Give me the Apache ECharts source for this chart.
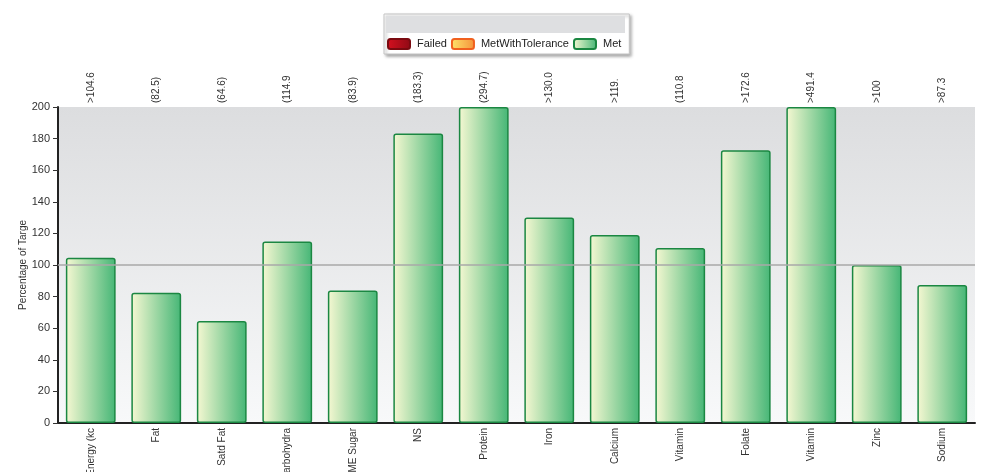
<!DOCTYPE html>
<html>
<head>
<meta charset="utf-8">
<script src="https://cdn.jsdelivr.net/npm/echarts@6/dist/echarts.min.js"></script>
<style>
    html, body { margin: 0; padding: 0; background: #fff; }
    #chart { width: 985px; height: 472px; }
</style>
</head>
<body>
<div id="chart"></div>
<script>
var categories = ['Energy (kc', 'Fat', 'Satd Fat', 'Carbohydra', 'NME Sugar', 'NS', 'Protein',
    'Iron', 'Calcium', 'Vitamin', 'Folate', 'Vitamin', 'Zinc', 'Sodium'];
// shown values, capped at the axis max
var metValues = [104.6, 82.5, 64.6, 114.9, 83.9, 183.3, 200, 130.0, 119, 110.8, 172.6, 200, 100, 87.3];
// labels printed above the plot
var topLabels = ['>104.6', '(82.5)', '(64.6)', '(114.9', '(83.9)', '(183.3)', '(294.7)',
    '>130.0', '>119.', '(110.8', '>172.6', '>491.4', '>100', '>87.3'];
var targetLine = 100;

var grad = function(a, b) {
    return new echarts.graphic.LinearGradient(0, 0, 1, 0, [
        {offset: 0, color: a},
        {offset: 1, color: b}
    ]);
};

var drawChart = function() {
    var chart = echarts.init(document.getElementById('chart'));
    var font = 'Liberation Sans, Arial, sans-serif';
    var option = {
        backgroundColor: '#fff',
        animation: false,
        textStyle: {fontFamily: font},
        legend: {
            left: 384,
            top: 14,
            padding: [24, 8, 4, 3],
            itemWidth: 22,
            itemHeight: 10,
            itemGap: 4,
            backgroundColor: '#fff',
            borderColor: '#c4c4c4',
            borderWidth: 1,
            shadowColor: 'rgba(0,0,0,0.35)',
            shadowBlur: 3,
            shadowOffsetX: 2,
            shadowOffsetY: 2,
            textStyle: {fontSize: 11, color: '#222', padding: [0, 4, 0, 2]},
            data: ['Failed', 'MetWithTolerance', 'Met']
        },
        graphic: [{
            type: 'rect',
            z: 10,
            shape: {x: 386, y: 16, width: 239, height: 17},
            style: {fill: '#dedfe1'}
        }],
        grid: {
            left: 58,
            right: 10,
            top: 107,
            bottom: 49,
            outerBoundsMode: 'none',
            containLabel: false,
            show: true,
            borderWidth: 0,
            backgroundColor: new echarts.graphic.LinearGradient(0, 0, 0, 1, [
                {offset: 0, color: '#dcdddf'},
                {offset: 1, color: '#f8f9fa'}
            ])
        },
        xAxis: [{
            type: 'category',
            data: categories,
            axisLine: {lineStyle: {color: '#222', width: 2}},
            axisTick: {show: false},
            axisLabel: {rotate: 90, fontSize: 10, color: '#333', margin: 5, interval: 0}
        }, {
            type: 'category',
            position: 'top',
            data: topLabels,
            axisLine: {show: false},
            axisTick: {show: false},
            axisLabel: {rotate: -90, fontSize: 10, color: '#333', margin: 4, interval: 0}
        }],
        yAxis: [{
            type: 'value',
            min: 0,
            max: 200,
            interval: 20,
            name: 'Percentage of Targe',
            nameLocation: 'middle',
            nameGap: 30,
            nameMoveOverlap: false,
            nameTextStyle: {fontSize: 10, color: '#333'},
            axisLine: {show: true, lineStyle: {color: '#222', width: 2}},
            axisTick: {show: true, length: 5, lineStyle: {color: '#333'}},
            axisLabel: {fontSize: 11, color: '#333', margin: 8},
            splitLine: {show: false}
        }],
        series: [{
            name: 'Failed',
            type: 'bar',
            data: [],
            itemStyle: {color: grad('#d5101f', '#8e0a15'), borderColor: '#7a0a10', borderWidth: 1}
        }, {
            name: 'MetWithTolerance',
            type: 'bar',
            data: [],
            itemStyle: {color: grad('#fde36a', '#f5923a'), borderColor: '#f0601e', borderWidth: 1}
        }, {
            name: 'Met',
            type: 'bar',
            data: metValues,
            barGap: '-100%',
            barCategoryGap: '24%',
            itemStyle: {
                color: grad('#f6f8d2', '#45b676'),
                borderColor: '#1b8742',
                borderWidth: 1.5,
                borderRadius: 2
            },
            markLine: {
                silent: true,
                symbol: 'none',
                label: {show: false},
                lineStyle: {color: '#a8a8a8', width: 1.5, type: 'solid'},
                data: [{yAxis: targetLine}]
            }
        }]
    };
    chart.setOption(option);
};

drawChart();
</script>
</body>
</html>
